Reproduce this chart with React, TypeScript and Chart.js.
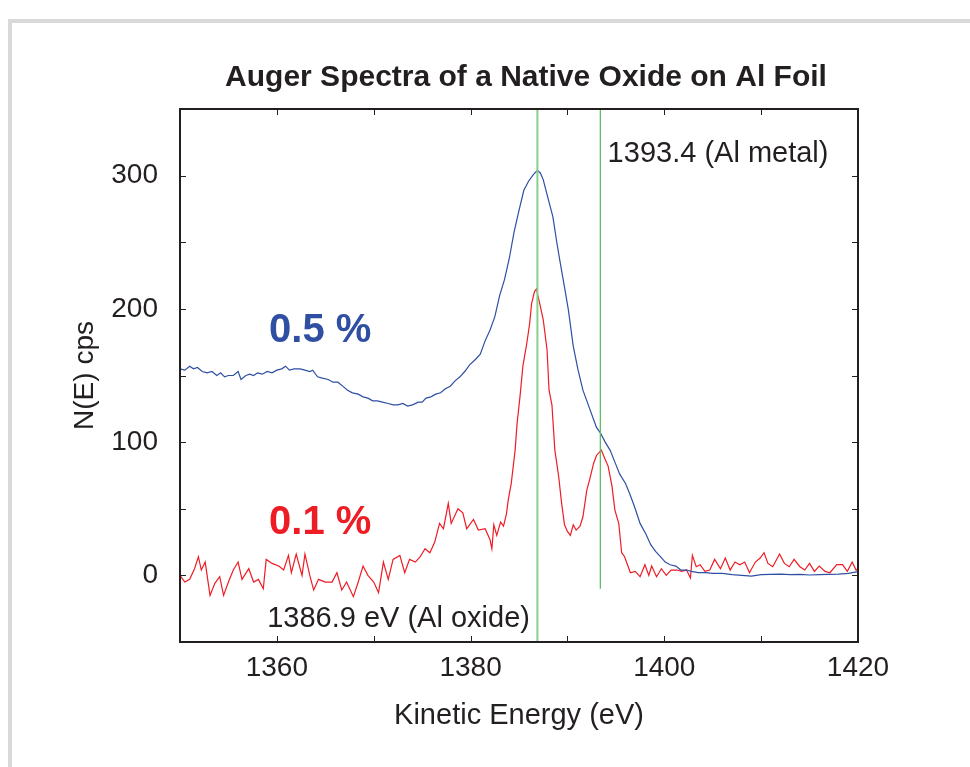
import React, { useEffect, useRef } from 'react';
import { Chart, registerables } from 'chart.js';

Chart.register(...registerables);

// ---- Data ----
const energy05 = [
  1350.0, 1350.5, 1351.0, 1351.4, 1351.8, 1352.3, 1352.8, 1353.3, 1353.8, 1354.2,
  1354.6, 1355.0, 1355.5, 1356.0, 1356.3, 1356.8, 1357.2, 1357.6, 1358.0, 1358.5,
  1359.0, 1359.5, 1360.0, 1360.5, 1360.9, 1361.3, 1361.8, 1362.4, 1362.9, 1363.4,
  1363.7, 1364.2, 1364.7, 1365.3, 1365.8, 1366.3, 1366.8, 1367.3, 1367.8, 1368.4,
  1368.9, 1369.4, 1369.9, 1370.4, 1370.9, 1371.5, 1372.0, 1372.5, 1373.0, 1373.5,
  1374.0, 1374.6, 1375.0, 1375.4, 1375.9, 1376.4, 1376.9, 1377.4, 1377.9, 1378.4,
  1378.9, 1379.4, 1379.9, 1380.5, 1381.0, 1381.5, 1382.0, 1382.5, 1383.0, 1383.5,
  1384.0, 1384.5, 1385.0, 1385.5, 1386.0, 1386.5, 1386.9, 1387.2, 1387.5, 1388.0,
  1388.5, 1388.9, 1389.2, 1389.8, 1390.1, 1390.6, 1391.1, 1391.6, 1392.2, 1392.7,
  1393.0, 1393.4, 1393.9, 1394.4, 1394.9, 1395.4, 1396.0, 1396.5, 1397.0, 1397.5,
  1398.1, 1398.6, 1399.1, 1399.6, 1400.1, 1400.6, 1401.2, 1401.7, 1402.3, 1402.8,
  1403.5, 1404.3, 1405.0, 1406.0, 1407.0, 1408.0, 1409.0, 1410.0, 1411.0, 1412.0,
  1413.0, 1414.0, 1415.0, 1416.0, 1417.0, 1418.0, 1419.0, 1420.0,
];
const counts05 = [
  155, 154, 157, 155, 156, 153, 152, 153, 150, 152,
  149, 150, 150, 153, 147, 150, 151, 150, 152, 151,
  153, 152, 154, 155, 157, 154, 155, 155, 154, 153,
  154, 149, 148, 147, 145, 145, 142, 139, 137, 136,
  134, 133, 131, 131, 130, 129, 128, 128, 129, 127,
  128, 130, 130, 133, 134, 136, 137, 140, 142, 146,
  149, 153, 158, 162, 166, 176, 184, 194, 210, 222,
  238, 258, 274, 289, 296, 301, 304, 302, 297, 283,
  269, 250, 237, 212, 199, 172, 154, 139, 127, 117,
  111, 107, 100, 94, 85, 76, 69, 60, 50, 39,
  31, 23, 18, 14, 10, 8, 7, 4, 4, 3,
  2, 2, 1.5, 1.5, 0.5, 0, -0.5, 0.5, 0.8, 1,
  0.5, 0.8, 0.3, 0.5, 0.8, 1, 1.5, 2.8,
];

const energy01 = [
  1350.0, 1350.5, 1351.0, 1351.5, 1351.9, 1352.2, 1352.6, 1353.1, 1353.6, 1354.1,
  1354.5, 1355.0, 1355.5, 1356.0, 1356.4, 1357.1, 1357.6, 1358.1, 1358.6, 1358.9,
  1359.5, 1360.2, 1360.7, 1361.2, 1361.5, 1362.0, 1362.6, 1362.9, 1363.4, 1363.8,
  1364.3, 1365.0, 1365.7, 1366.2, 1366.7, 1367.2, 1367.9, 1368.4, 1368.9, 1369.4,
  1370.0, 1370.5, 1371.0, 1371.5, 1372.0, 1372.7, 1373.2, 1373.7, 1374.3, 1374.8,
  1375.3, 1375.8, 1376.3, 1376.8, 1377.2, 1377.7, 1378.0, 1378.7, 1379.2, 1379.6,
  1380.3, 1380.8, 1381.5, 1382.0, 1382.2, 1382.4, 1382.7, 1383.1, 1383.4, 1383.7,
  1383.9, 1384.2, 1384.6, 1384.8, 1385.1, 1385.4, 1385.8, 1386.1, 1386.3, 1386.6,
  1386.8, 1387.2, 1387.5, 1387.9, 1388.1, 1388.4, 1388.7, 1389.1, 1389.4, 1389.7,
  1390.0, 1390.3, 1390.6, 1390.9, 1391.3, 1391.6, 1392.0, 1392.3, 1392.7, 1393.0,
  1393.5, 1393.9, 1394.2, 1394.6, 1394.9, 1395.3, 1395.6, 1395.9, 1396.5, 1397.0,
  1397.5, 1398.0, 1398.4, 1398.7, 1399.2, 1399.7, 1400.2, 1400.7, 1401.3, 1401.8,
  1402.3, 1402.7, 1402.9, 1403.3, 1403.7, 1404.2, 1404.7, 1405.2, 1405.8, 1406.3,
  1406.8, 1407.3, 1407.8, 1408.3, 1408.8, 1409.4, 1409.9, 1410.3, 1410.7, 1411.2,
  1411.9, 1412.4, 1412.9, 1413.4, 1414.0, 1414.5, 1415.0, 1415.5, 1416.0, 1416.6,
  1417.1, 1417.8, 1418.4, 1418.9, 1419.4, 1419.8, 1420.0,
];
const counts01 = [
  0, -5, -3, 5, 14, 4, 10, -15, -6, -1,
  -15, -5, 4, 10, -3, 5, -5, -3, -10, 12,
  9, 7, 4, 15, 2, 16, 0, 16, 0, -11,
  -3, -5, -5, 2, -11, -5, -16, -5, 7, 0,
  -5, -13, 10, -3, 12, 15, 2, 12, 10, 14,
  20, 17, 25, 39, 35, 54, 39, 50, 47, 35,
  42, 34, 35, 27, 20, 38, 30, 40, 37, 46,
  57, 69, 94, 114, 134, 157, 174, 189, 204, 213,
  215, 202, 192, 169, 139, 128, 94, 74, 54, 38,
  33, 30, 38, 34, 37, 44, 64, 72, 84, 90,
  94, 87, 82, 67, 49, 39, 17, 14, 2, 3,
  -1, 8, 0, 7, -1, 5, 0, 4, 4, 3,
  4, -2, 15, 6.5, 8, 3, 4, 12, 5, 13,
  4, 10, 8, 10, 2, 10, 13, 17, 9, 6.5,
  16, 9, 6.5, 12, 6.5, 4, 9, 3, 7, 3,
  2, 8, 8, 3, 10, 4, 5,
];

const xTickLabels = [1360, 1380, 1400, 1420];
const yTickLabels = [0, 100, 200, 300];
const markerEnergies = [1386.9, 1393.4];
const markerLows = [-50, -10];
const markerHighs = [350, 350];

const TITLE = 'Auger Spectra of a Native Oxide on Al Foil';
const X_TITLE = 'Kinetic Energy (eV)';
const Y_TITLE = 'N(E) cps';

const BLUE = '#2f4fa2';
const RED = '#ee1c24';
const INK = '#231f20';
const FONT = "'Liberation Sans', Arial, Helvetica, sans-serif";

const annotations = [
  { text: '0.5 %', x: 1359.2, y: 175, color: BLUE, font: `bold 40px ${FONT}`, align: 'left' },
  { text: '0.1 %', x: 1359.2, y: 31, color: RED, font: `bold 40px ${FONT}`, align: 'left' },
  { text: '1393.4 (Al metal)', x: 1394.15, y: 310, color: INK, font: `29px ${FONT}`, align: 'left' },
  { text: '1386.9 eV (Al oxide)', x: 1386.13, y: -38.5, color: INK, font: `29px ${FONT}`, align: 'right' },
];

const zip = (xs: number[], ys: number[]) => xs.map((x, i) => ({ x, y: ys[i] }));

const framePlugin = {
  id: 'frameAndText',
  afterDatasetsDraw(chart: any) {
    const { ctx, chartArea } = chart;
    const { left, right, top, bottom } = chartArea;
    const xs = chart.scales.x;
    const ys = chart.scales.y;
    ctx.save();
    // inward tick marks on all four sides
    ctx.strokeStyle = INK;
    ctx.lineWidth = 1;
    const TL = 6;
    xs.ticks.forEach((t: any) => {
      if (t.value <= xs.min || t.value >= xs.max) return;
      const px = Math.round(xs.getPixelForValue(t.value)) + 0.5;
      ctx.beginPath();
      ctx.moveTo(px, bottom);
      ctx.lineTo(px, bottom - TL);
      ctx.moveTo(px, top);
      ctx.lineTo(px, top + TL);
      ctx.stroke();
    });
    ys.ticks.forEach((t: any) => {
      if (t.value <= ys.min || t.value >= ys.max) return;
      const py = Math.round(ys.getPixelForValue(t.value)) + 0.5;
      ctx.beginPath();
      ctx.moveTo(left, py);
      ctx.lineTo(left + TL, py);
      ctx.moveTo(right, py);
      ctx.lineTo(right - TL, py);
      ctx.stroke();
    });
    // frame
    ctx.lineWidth = 2;
    ctx.strokeRect(left, top, right - left, bottom - top);
    // title
    ctx.fillStyle = INK;
    ctx.font = `bold 30px ${FONT}`;
    ctx.textAlign = 'center';
    ctx.textBaseline = 'alphabetic';
    ctx.fillText(TITLE, 526, 86);
    // annotations
    annotations.forEach((a) => {
      ctx.font = a.font;
      ctx.fillStyle = a.color;
      ctx.textAlign = a.align as CanvasTextAlign;
      ctx.fillText(a.text, xs.getPixelForValue(a.x), ys.getPixelForValue(a.y));
    });
    ctx.restore();
  },
};

export default function App() {
  const ref = useRef<HTMLCanvasElement | null>(null);
  useEffect(() => {
    if (!ref.current) return;
    const markerSets = markerEnergies.map((e, i) => ({
      label: `marker${i}`,
      data: [
        { x: e, y: markerLows[i] },
        { x: e, y: markerHighs[i] },
      ],
      borderColor: i === 0 ? '#86d08c' : '#5cbf63',
      borderWidth: i === 0 ? 2 : 1.3,
      pointRadius: 0,
      order: 0,
    }));
    const chart = new Chart(ref.current, {
      type: 'line',
      data: {
        datasets: [
          ...markerSets,
          {
            label: '0.5 %',
            data: zip(energy05, counts05),
            borderColor: BLUE,
            borderWidth: 1.2,
            pointRadius: 0,
            tension: 0,
            order: 1,
          },
          {
            label: '0.1 %',
            data: zip(energy01, counts01),
            borderColor: RED,
            borderWidth: 1.2,
            pointRadius: 0,
            tension: 0,
            order: 2,
          },
        ],
      },
      options: {
        animation: false,
        responsive: false,
        events: [],
        layout: { padding: { left: 0, top: 109, right: 112, bottom: 0 } },
        plugins: {
          legend: { display: false },
          tooltip: { enabled: false },
          title: { display: false },
        },
        scales: {
          x: {
            type: 'linear',
            min: 1350,
            max: 1420,
            grid: { display: false, drawTicks: false },
            border: { display: false },
            ticks: {
              stepSize: 10,
              autoSkip: false,
              maxRotation: 0,
              padding: 9,
              color: INK,
              font: { family: FONT, size: 28 },
              callback: (v: any) => (xTickLabels.includes(Number(v)) ? String(v) : ''),
            },
            title: {
              display: true,
              text: X_TITLE,
              color: INK,
              font: { family: FONT, size: 29 },
              padding: { top: 0, bottom: 34 },
            },
            afterFit: (s: any) => {
              s.height = 125;
            },
          },
          y: {
            type: 'linear',
            min: -50,
            max: 350,
            grid: { display: false, drawTicks: false },
            border: { display: false },
            ticks: {
              stepSize: 50,
              autoSkip: false,
              padding: 22,
              color: INK,
              font: { family: FONT, size: 28 },
              callback: (v: any) => (yTickLabels.includes(Number(v)) ? String(v) : ''),
            },
            title: {
              display: true,
              text: Y_TITLE,
              color: INK,
              font: { family: FONT, size: 28 },
              padding: { top: 68, bottom: 0 },
            },
            afterFit: (s: any) => {
              s.width = 180;
            },
          },
        },
      },
      plugins: [framePlugin],
    });
    return () => chart.destroy();
  }, []);

  return (
    <div style={{ position: 'fixed', left: 0, top: 0, width: 970, height: 767, overflow: 'hidden', background: '#fff' }}>
      <div
        style={{
          position: 'absolute',
          left: 8,
          top: 19,
          width: 1100,
          height: 900,
          borderTop: '4px solid #d9d9d9',
          borderLeft: '4px solid #d9d9d9',
        }}
      />
      <canvas ref={ref} width={970} height={767} style={{ position: 'absolute', left: 0, top: 0, display: 'block' }} />
    </div>
  );
}
